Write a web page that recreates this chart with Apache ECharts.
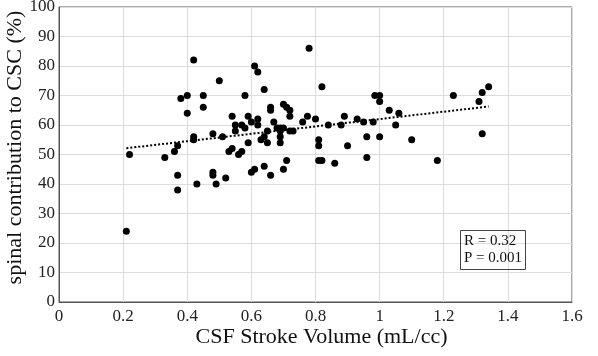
<!DOCTYPE html>
<html>
<head>
<meta charset="utf-8">
<script src="https://cdn.jsdelivr.net/npm/echarts@6/dist/echarts.min.js"></script>
<style>
  html, body { margin: 0; padding: 0; background: #fff; }
  #chart { width: 598px; height: 356px; }
</style>
</head>
<body>
<div id="chart"></div>
<script>
// CSF stroke volume (mL/cc) for each subject
const strokeVolume = [
  0.21, 0.22, 0.33, 0.36, 0.37, 0.37, 0.37, 0.38, 0.40, 0.40,
  0.42, 0.42, 0.42, 0.43, 0.45, 0.45, 0.48, 0.48, 0.48, 0.49,
  0.50, 0.51, 0.52, 0.53, 0.54, 0.54, 0.55, 0.55, 0.56, 0.57,
  0.57, 0.58, 0.58, 0.59, 0.59, 0.60, 0.60, 0.61, 0.61, 0.62,
  0.62, 0.62, 0.63, 0.64, 0.64, 0.64, 0.65, 0.65, 0.66, 0.66,
  0.66, 0.67, 0.68, 0.69, 0.69, 0.69, 0.69, 0.70, 0.70, 0.70,
  0.71, 0.71, 0.72, 0.72, 0.72, 0.73, 0.76, 0.775, 0.78, 0.80,
  0.81, 0.81, 0.81, 0.82, 0.82, 0.84, 0.86, 0.88, 0.89, 0.90,
  0.93, 0.95, 0.96, 0.96, 0.98, 0.985, 1.00, 1.00, 1.00, 1.03,
  1.05, 1.06, 1.10, 1.18, 1.23, 1.31, 1.32, 1.32, 1.34
];
// spinal contribution to CSC (%) for the same subjects
const spinalContribution = [
  24, 50, 49, 51, 53, 43, 38, 69, 70, 64,
  82, 56, 55, 40, 70, 66, 57, 44, 43, 40,
  75, 56, 42, 51, 52, 63, 60, 58, 50, 51,
  60, 70, 59, 63, 54, 61, 44, 45, 80, 78,
  62, 60, 55, 56, 72, 46, 58, 54, 66, 65,
  43, 61, 59, 59, 56, 54, 58, 59, 45, 67,
  48, 66, 65, 63, 58, 58, 61, 63, 86, 62,
  55, 53, 48, 73, 48, 60, 47, 60, 63, 53,
  62, 61, 56, 49, 61, 70, 70, 68, 56, 65,
  60, 64, 55, 48, 70, 68, 71, 57, 73
];
const xTicks = [0, 0.2, 0.4, 0.6, 0.8, 1, 1.2, 1.4, 1.6];
const statsText = ['R = 0.32', 'P = 0.001'];

const points = strokeVolume.map((x, i) => [x, spinalContribution[i]]);

// least squares trend line over the range of the data
const n = points.length;
const mx = strokeVolume.reduce((a, b) => a + b, 0) / n;
const my = spinalContribution.reduce((a, b) => a + b, 0) / n;
let sxy = 0, sxx = 0;
points.forEach(p => {
  sxy += (p[0] - mx) * (p[1] - my);
  sxx += (p[0] - mx) * (p[0] - mx);
});
const slope = sxy / sxx;
const icpt = my - slope * mx;
const xMin = Math.min(...strokeVolume);
const xMax = Math.max(...strokeVolume);
const trend = [[xMin, icpt + slope * xMin], [xMax, icpt + slope * xMax]];

const font = 'Liberation Serif';
const chart = echarts.init(document.getElementById('chart'));
chart.setOption({
  animation: false,
  grid: {
    left: 59, right: 26, top: 7, bottom: 54,
    outerBoundsMode: 'none',
    show: true, borderColor: '#555', borderWidth: 1
  },
  title: {
    text: statsText.join('\n'),
    left: 460, top: 230,
    padding: [3, 4, 3, 4],
    borderColor: '#444', borderWidth: 1,
    textStyle: { fontFamily: font, fontSize: 15, fontWeight: 'normal', color: '#111', lineHeight: 17 }
  },
  xAxis: {
    type: 'value', min: 0, max: 1.6, interval: 0.2,
    name: 'CSF Stroke Volume (mL/cc)',
    nameLocation: 'middle', nameGap: 24, nameMoveOverlap: false,
    nameTextStyle: { fontFamily: font, fontSize: 22, color: '#111', padding: [0, 0, 0, 12] },
    axisLine: { show: true, lineStyle: { color: '#555' } },
    axisTick: { show: false },
    axisLabel: {
      fontFamily: font, fontSize: 17, color: '#222', margin: 6,
      formatter: v => {
        const t = xTicks.find(k => Math.abs(k - v) < 1e-6);
        return t === undefined ? '' : String(t);
      }
    },
    splitLine: { show: true, lineStyle: { color: '#dcdcdc' } }
  },
  yAxis: {
    type: 'value', min: 0, max: 100, interval: 10,
    name: 'spinal contribution to CSC (%)',
    nameLocation: 'middle', nameGap: 33, nameMoveOverlap: false,
    nameTextStyle: { fontFamily: font, fontSize: 22, color: '#111', padding: [0, 0, 0, 14] },
    axisLine: { show: true, lineStyle: { color: '#555' } },
    axisTick: { show: false },
    axisLabel: { fontFamily: font, fontSize: 17, color: '#222', margin: 4 },
    splitLine: { show: true, lineStyle: { color: '#dcdcdc' } }
  },
  series: [
    {
      type: 'scatter',
      data: points,
      symbolSize: 7,
      itemStyle: { color: '#000', opacity: 1 }
    },
    {
      type: 'line',
      data: trend,
      symbol: 'none',
      lineStyle: { color: '#000', width: 2, type: [2, 2] },
      z: 3
    }
  ]
});
</script>
</body>
</html>
